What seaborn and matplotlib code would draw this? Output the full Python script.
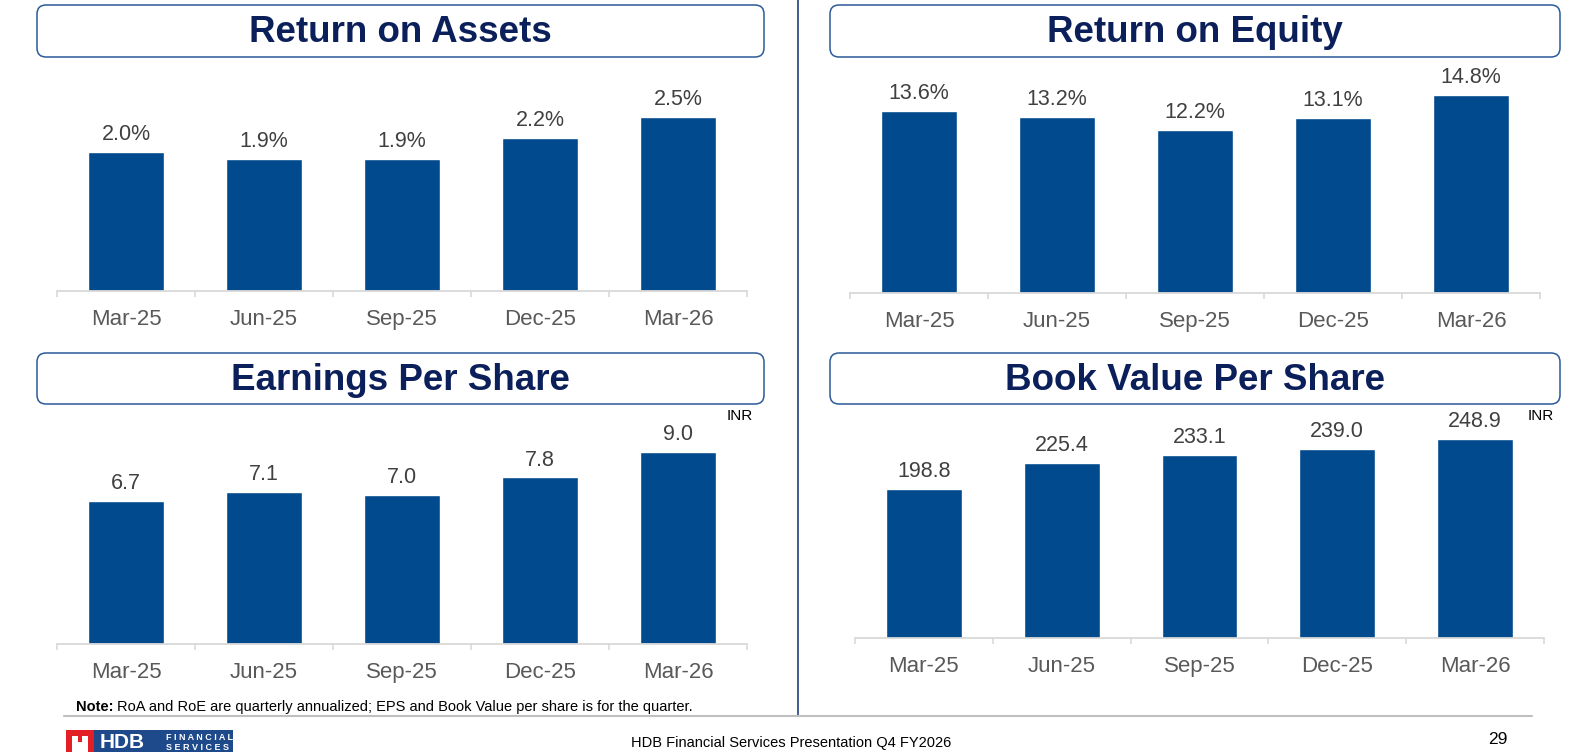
import matplotlib
matplotlib.use("Agg")
import matplotlib.pyplot as plt
from matplotlib.patches import FancyBboxPatch, Rectangle
import pandas as pd
import seaborn as sns

quarters = ["Mar-25", "Jun-25", "Sep-25", "Dec-25", "Mar-26"]
roa = [2.0, 1.9, 1.9, 2.2, 2.5]
roe = [13.6, 13.2, 12.2, 13.1, 14.8]
eps = [6.7, 7.1, 7.0, 7.8, 9.0]
bvps = [198.8, 225.4, 233.1, 239.0, 248.9]

titles = ["Return on Assets", "Return on Equity", "Earnings Per Share", "Book Value Per Share"]
note_bold = "Note:"
note_text = "RoA and RoE are quarterly annualized; EPS and Book Value per share is for the quarter."
footer = "HDB Financial Services Presentation Q4 FY2026"
page_no = "29"

BAR = "#004A8D"
NAVY = "#0B1F5B"
BOX_EDGE = "#2C5A9A"
GRID = "#D9D9D9"

sns.set_style("white")
plt.rcParams["font.family"] = ["Liberation Sans", "DejaVu Sans"]

W, H = 1576, 752
fig = plt.figure(figsize=(W / 100, H / 100), dpi=100)

# calque en pixels pour les cadres, lignes et textes
bg = fig.add_axes([0, 0, 1, 1])
bg.set_xlim(0, W)
bg.set_ylim(H, 0)
bg.axis("off")


def px_axes(x0, x1, ytop, ybot):
    return fig.add_axes([x0 / W, 1 - ybot / H, (x1 - x0) / W, (ybot - ytop) / H])


def title_box(x0, x1, y0, y1, text):
    box = FancyBboxPatch((x0 + 9, y0 + 9), (x1 - x0) - 18, (y1 - y0) - 18,
                         boxstyle="round,pad=9", fc="white", ec=BOX_EDGE, lw=1.1)
    bg.add_patch(box)
    bg.text((x0 + x1) / 2, (y0 + y1) / 2 + 2, text, ha="center", va="center",
            fontsize=26.5, fontweight="bold", color=NAVY)


def bar_panel(ax, values, labels, ymin, ymax):
    df = pd.DataFrame({"q": quarters, "v": values})
    sns.barplot(data=df, x="q", y="v", color=BAR, saturation=1, width=0.55, ax=ax)
    ax.set_xlim(-0.5, len(quarters) - 0.5)
    ax.set_ylim(ymin, ymax)
    ax.bar_label(ax.containers[0], labels=labels, padding=5, fontsize=15.5, color="#404040")
    ax.set_xlabel("")
    ax.set_ylabel("")
    ax.set_yticks([])
    for s in ["top", "left", "right"]:
        ax.spines[s].set_visible(False)
    ax.spines["bottom"].set_color(GRID)
    ax.spines["bottom"].set_linewidth(1.3)
    ax.set_xticks([i - 0.5 for i in range(len(quarters) + 1)], minor=True)
    ax.tick_params(axis="x", which="both", bottom=True, direction="out")
    ax.tick_params(axis="x", which="minor", length=4.5, color=GRID, width=1.2)
    ax.tick_params(axis="x", which="major", length=0, pad=13, labelsize=16, labelcolor="#595959")
    ax.patch.set_alpha(0)


# cadres de titre
title_box(37, 764, 5, 57, titles[0])
title_box(830, 1560, 5, 57, titles[1])
title_box(37, 764, 353, 404, titles[2])
title_box(830, 1560, 353, 404, titles[3])

# graphiques
ax1 = px_axes(57, 747, 70, 291)
bar_panel(ax1, roa, [f"{v:.1f}%" for v in roa], 0, 221 / 69.5)

ax2 = px_axes(850, 1540, 70, 293)
bar_panel(ax2, roe, [f"{v:.1f}%" for v in roe], 0, 223 / 13.37)

ax3 = px_axes(57, 747, 420, 644)
bar_panel(ax3, eps, [f"{v:.1f}" for v in eps], 0, 224 / 21.35)

ax4 = px_axes(855, 1544, 420, 638)
bar_panel(ax4, bvps, [f"{v:.1f}" for v in bvps], 50, 50 + 218 / 1.0)

bg.text(727, 416, "INR", fontsize=11, color="black", va="center", ha="left")
bg.text(1528, 416, "INR", fontsize=11, color="black", va="center", ha="left")

# separateurs
bg.plot([798, 798], [0, 716], color="#1F3F7F", lw=1.2)
bg.plot([64, 1532], [716, 716], color="#BFBFBF", lw=1.5)

# note de bas de page
bg.text(76, 707, note_bold, fontsize=10.5, fontweight="bold", color="black", va="center")
bg.text(117, 707, note_text, fontsize=10.5, color="black", va="center")
bg.text(631, 743, footer, fontsize=10.5, color="black", va="center", ha="left")
bg.text(1508, 739, page_no, fontsize=12.5, color="black", va="center", ha="right")

# logo simplifie
bg.add_patch(Rectangle((90, 730), 143, 30, fc="#1E4A8C", ec="none"))
bg.add_patch(Rectangle((66, 730), 28, 30, fc="#E31E24", ec="none"))
bg.add_patch(Rectangle((72, 736), 16, 30, fc="white", ec="none"))
bg.add_patch(Rectangle((78, 730), 4, 12, fc="#E31E24", ec="none"))
bg.text(100, 742, "HDB", fontsize=15, fontweight="bold", color="white", va="center")
bg.text(166, 738, "F I N A N C I A L", fontsize=6.5, fontweight="bold", color="white", va="center")
bg.text(166, 747, "S E R V I C E S", fontsize=6.5, fontweight="bold", color="white", va="center")

fig.savefig("out.png", dpi=100)
